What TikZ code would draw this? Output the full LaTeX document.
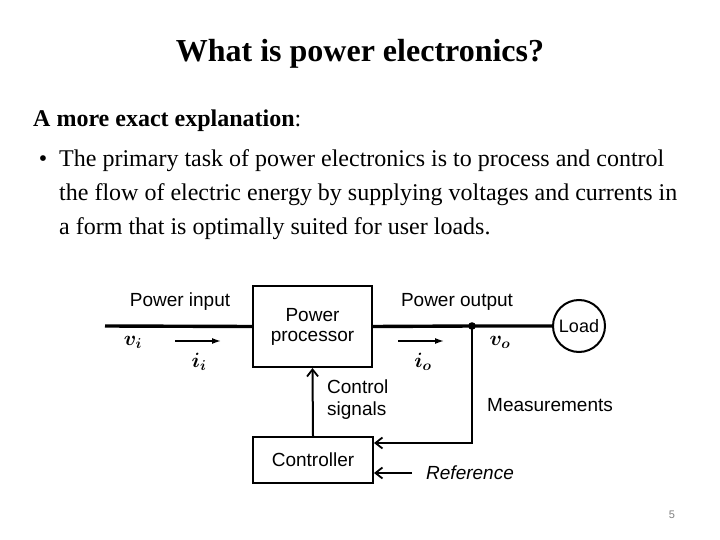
\documentclass[tikz,border=0pt]{standalone}
\usepackage{fontspec}
\setmainfont{Liberation Serif}
\newfontfamily\dsans{Liberation Sans}
\usetikzlibrary{arrows.meta,calc}
\begin{document}
\begin{tikzpicture}[x=1pt,y=-1pt,
  box/.style={draw,line width=2pt,inner sep=0pt,font=\dsans\fontsize{19}{21}\selectfont,align=center},
  dlabel/.style={inner sep=0pt,font=\dsans\fontsize{19}{22}\selectfont},
  mlabel/.style={inner sep=0pt,font=\boldmath\fontsize{21}{24}\selectfont},
  powerline/.style={line width=3.4pt},
  sigline/.style={line width=2pt},
  barb/.style={-{Straight Barb[length=7pt,width=11pt,line width=1.8pt]}},
  curarrow/.style={line width=1.5pt,-{Latex[length=9pt,width=6pt]}},
  body/.style={inner sep=0pt,anchor=base west,font=\fontsize{24}{28}\selectfont}]
\useasboundingbox[fill=white] (0,0) rectangle (720,540);
% texts
\node[inner sep=0pt,anchor=base,font=\bfseries\fontsize{32}{36}\selectfont] (title) at (360,62) {What is power electronics?};
\node[body] (head) at (33,127) {\textbf{A more exact explanation}:};
\node[body,anchor=base] (bul) at (43,167) {•};
\node[body] (l1) at (59,167) {The primary task of power electronics is to process and control};
\node[body] (l2) at (59,201) {the flow of electric energy by supplying voltages and currents in};
\node[body] (l3) at (59,235) {a form that is optimally suited for user loads.};
% diagram
\node[box,minimum width=119pt,minimum height=81pt] (pp) at (312.5,326.5) {Power\\[-1pt]processor};
\node[box,minimum width=120pt,minimum height=46pt] (ctrl) at (313,460) {Controller};
\node[draw,circle,line width=2pt,minimum size=52pt,inner sep=0pt,font=\dsans\fontsize{18}{21}\selectfont] (load) at (579,326) {Load};
\coordinate (in) at (105,326);
\coordinate (j) at (472,326);
\draw[powerline] (in) -- (pp.west);
\draw[powerline] (pp.east) -- (j) -- (load.west);
\fill (j) circle (3.8pt);
\draw[sigline,barb] (ctrl.north) -- (pp.south);
\draw[sigline,barb] (j) |- ([yshift=17pt]ctrl.east);
\coordinate (refstart) at (412,473);
\draw[sigline,barb] (refstart) -- (ctrl.east |- refstart);
% labels
\node[dlabel] (pin) at (180,302) {Power input};
\node[dlabel] (pout) at (457,302) {Power output};
\node[dlabel,anchor=west,align=left] (cs) at (327,400) {Control\\signals};
\node[dlabel,anchor=west] (meas) at (487,405) {Measurements};
\node[dlabel,anchor=west,font=\dsans\itshape\fontsize{19}{22}\selectfont] (ref) at (426,473) {Reference};
\node[mlabel] (vi) at (133,342) {$v_i$};
\node[mlabel] (ii) at (199,362) {$i_i$};
\node[mlabel] (vo) at (500,342) {$v_o$};
\node[mlabel] (io) at (423,362) {$i_o$};
\coordinate (ia) at (175,341); \coordinate (ib) at (221,341);
\draw[curarrow] (ia) -- (ib);
\coordinate (oa) at (398,341); \coordinate (ob) at (444,341);
\draw[curarrow] (oa) -- (ob);
\node[inner sep=0pt,text=gray,font=\dsans\fontsize{11}{13}\selectfont] (pg) at (672,515) {5};
\end{tikzpicture}
\end{document}
